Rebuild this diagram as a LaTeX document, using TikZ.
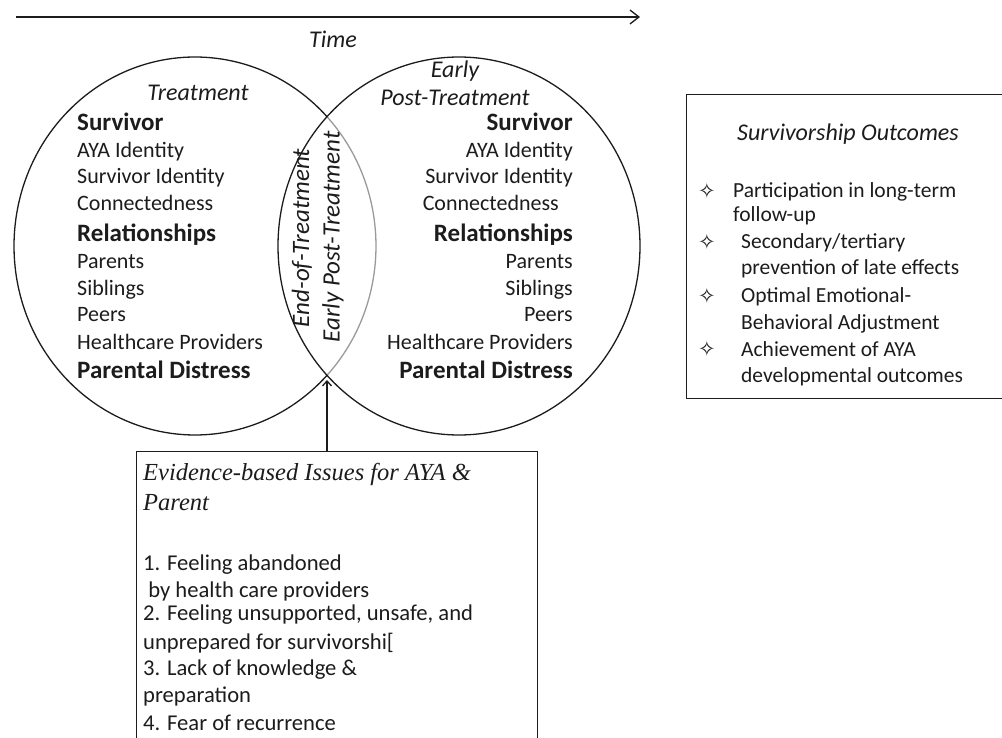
\documentclass[tikz,border=0pt]{standalone}
\usepackage{fontspec}
\setmainfont{Carlito}
\newfontfamily\serifit{Liberation Serif}
\newfontfamily\symfont{DejaVu Sans}
\usetikzlibrary{arrows.meta}
\definecolor{ink}{HTML}{1C1C1C}
\definecolor{lensgray}{HTML}{9A9A9A}
\begin{document}
\begin{tikzpicture}[x=1pt,y=1pt,
  ring/.style={draw=ink, line width=1.3pt},
  boxed/.style={draw=ink, line width=1.3pt, inner sep=0pt, anchor=north west},
  conn/.style={draw=ink, line width=1.3pt},
  lt/.style={inner sep=0pt, anchor=base west, text=ink, font=\fontsize{22}{26}\selectfont},
  lb/.style={inner sep=0pt, anchor=base west, text=ink, font=\fontsize{25}{30}\selectfont\bfseries},
  rt/.style={lt, anchor=base east},
  rb/.style={lb, anchor=base east},
  head/.style={inner sep=0pt, anchor=base, text=ink, font=\fontsize{24}{28}\selectfont\itshape},
  lensnote/.style={inner sep=0pt, rotate=90, text=ink, font=\fontsize{25}{28}\selectfont\itshape},
  outc/.style={inner sep=0pt, anchor=base west, text=ink, font=\fontsize{21.5}{26}\selectfont},
  star/.style={inner sep=0pt, anchor=center, text=ink, font=\fontsize{21}{24}\symfont},
  issue/.style={inner sep=0pt, anchor=base west, text=ink, font=\fontsize{22.6}{27}\selectfont},
  issuehead/.style={inner sep=0pt, anchor=base west, text=ink, font=\fontsize{24.5}{30}\serifit\itshape}]
\useasboundingbox (0,0) rectangle (1002,-738);
\clip (0,0) rectangle (1002,-738);

% time axis
\coordinate (tstart) at (16,-17);
\coordinate (tend) at (640,-17);
\draw[conn, -{Straight Barb[length=9pt,width=14pt]}] (tstart) -- (tend);
\node[head] (time) at (333,-48) {Time};

% the two overlapping phases
\def\ang{43.2}
\draw[ring] (195,-246) ++(\ang:181 and 189)
  arc[start angle=\ang, end angle=360-\ang, x radius=181, y radius=189];
\draw[ring, draw=lensgray] (195,-246) ++(-\ang:181 and 189)
  arc[start angle=-\ang, end angle=\ang, x radius=181, y radius=189];
\draw[ring] (459,-246) ellipse[x radius=181, y radius=189];
\coordinate (lowx) at (327,-375.4);
\coordinate (lowtip) at (327,-380);

% left phase
\node[head] (treat) at (198,-101) {Treatment};
\node[lb] (l1) at (77,-131) {Survivor};
\node[lt] (l2) at (77,-158) {AYA Identity};
\node[lt] (l3) at (77,-184) {Survivor Identity};
\node[lt] (l4) at (77,-211) {Connectedness};
\node[lb] (l5) at (77,-242) {Relationships};
\node[lt] (l6) at (77,-269) {Parents};
\node[lt] (l7) at (77,-295) {Siblings};
\node[lt] (l8) at (77,-322) {Peers};
\node[lt] (l9) at (77,-349) {Healthcare Providers};
\node[lb] (l10) at (77,-378) {Parental Distress};

% right phase
\node[head] (early) at (455,-78) {Early};
\node[head] (post) at (455,-106) {Post-Treatment};
\node[rb] (r1) at (573,-131) {Survivor};
\node[rt] (r2) at (573,-158) {AYA Identity};
\node[rt] (r3) at (573,-184) {Survivor Identity};
\node[rt] (r4) at (559,-211) {Connectedness};
\node[rb] (r5) at (573,-242) {Relationships};
\node[rt] (r6) at (573,-269) {Parents};
\node[rt] (r7) at (573,-295) {Siblings};
\node[rt] (r8) at (573,-322) {Peers};
\node[rt] (r9) at (573,-349) {Healthcare Providers};
\node[rb] (r10) at (573,-378) {Parental Distress};

% overlap labels
\node[lensnote] (eot) at (302,-238) {End-of-Treatment};
\node[lensnote] (ept) at (333,-237) {Early Post-Treatment};

% outcomes box
\node[boxed, minimum width=340pt, minimum height=304pt] (outcomes) at (686,-94) {};
\node[head] (outt) at (848,-141) {Survivorship Outcomes};
\node[star] (s1) at (707,-191) {✧};
\node[outc] (o1) at (733,-198) {Participation in long-term};
\node[outc] (o1b) at (733,-222) {follow-up};
\node[star] (s2) at (707,-242) {✧};
\node[outc] (o2) at (741,-249) {Secondary/tertiary};
\node[outc] (o2b) at (741,-275) {prevention of late effects};
\node[star] (s3) at (707,-296) {✧};
\node[outc] (o3) at (741,-303) {Optimal Emotional-};
\node[outc] (o3b) at (741,-329) {Behavioral Adjustment};
\node[star] (s4) at (707,-349) {✧};
\node[outc] (o4) at (741,-356) {Achievement of AYA};
\node[outc] (o4b) at (741,-382) {developmental outcomes};

% issues box
\node[boxed, minimum width=401pt, minimum height=320pt] (issues) at (136,-451) {};
\draw[conn, -{Straight Barb[length=5pt,width=9pt]}] (lowtip |- issues.north) -- (lowtip);
\node[issuehead] (ih1) at (143,-480) {Evidence-based Issues for AYA \&};
\node[issuehead] (ih2) at (143,-510) {Parent};
\node[issue] (i1) at (143,-570) {1. Feeling abandoned};
\node[issue] (i1b) at (143,-597) {\ by health care providers};
\node[issue] (i2) at (143,-620) {2. Feeling unsupported, unsafe, and};
\node[issue] (i2b) at (143,-649) {unprepared for survivorshi[};
\node[issue] (i3) at (143,-675) {3. Lack of knowledge \&};
\node[issue] (i3b) at (143,-702) {preparation};
\node[issue] (i4) at (143,-730) {4. Fear of recurrence};
\end{tikzpicture}
\end{document}
